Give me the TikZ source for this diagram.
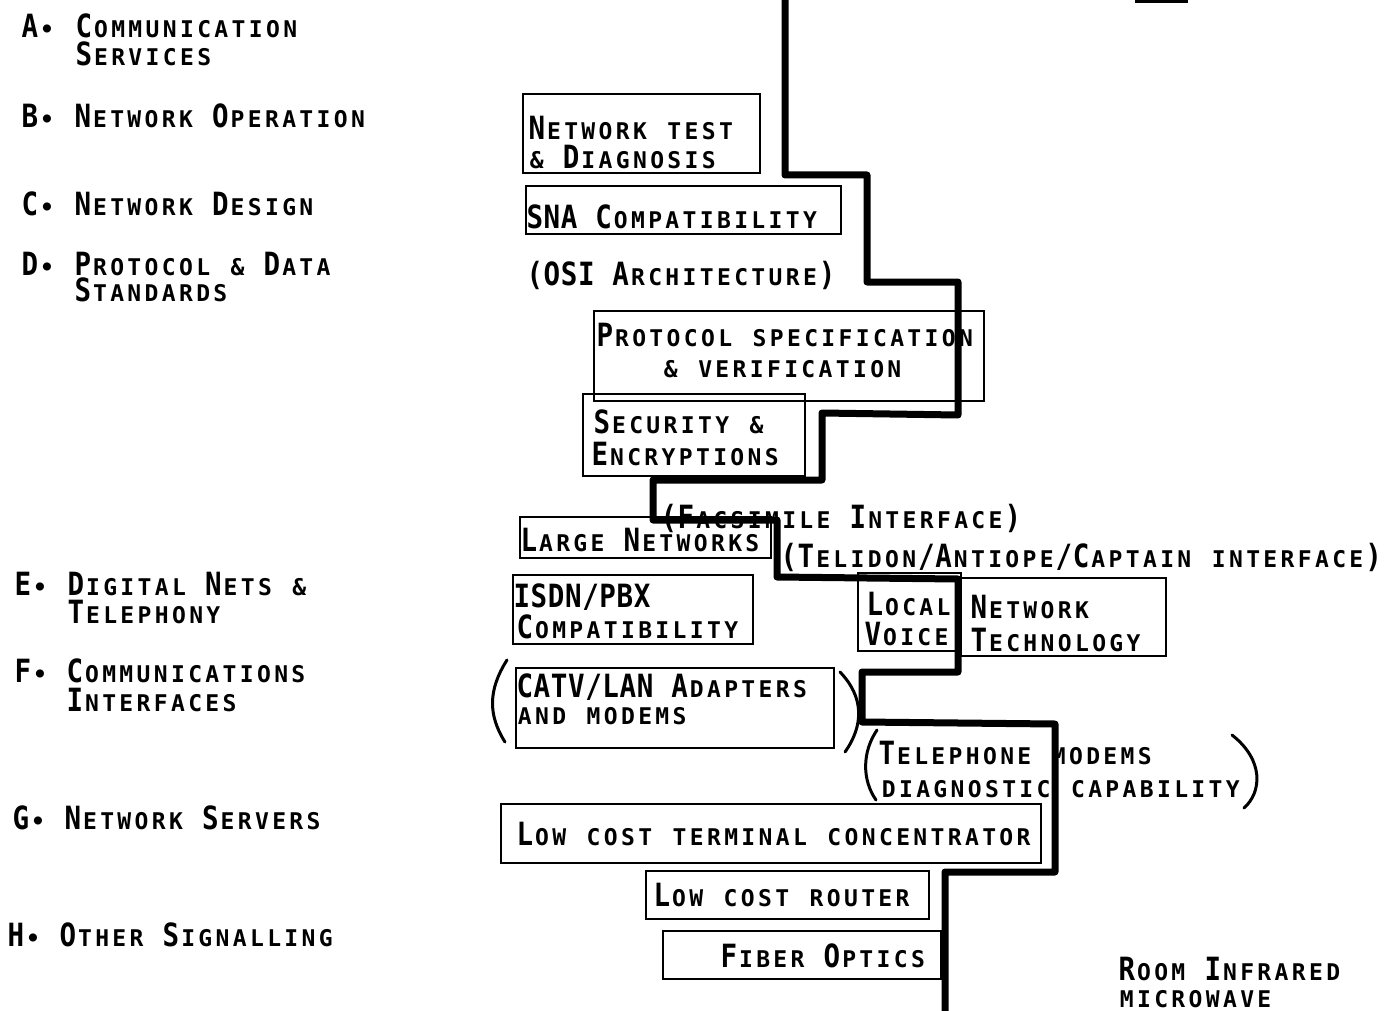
\documentclass[tikz,border=0pt]{standalone}
\usepackage{fontspec}
\setmainfont{DejaVu Sans}
\newfontfamily\twfamily{DejaVu Sans Mono}
\newfontfamily\twbigfamily[FakeStretch=0.86]{DejaVu Sans Mono}
\newcommand\twsmall{\twfamily\bfseries\fontsize{23}{26}\selectfont}
\newcommand\twbig{\twbigfamily\bfseries\fontsize{32}{32}\selectfont}
\usetikzlibrary{positioning}

% typewriter small caps on a fixed pitch
\ExplSyntaxOn
\dim_new:N \l_tw_pitch_dim
\dim_set:Nn \l_tw_pitch_dim {17.2pt}
\NewDocumentCommand \T { m }
  {
    \str_map_inline:nn {#1}
      {
        \makebox [\l_tw_pitch_dim] [c]
          {
            \bool_lazy_any:nTF
              {
                { \bool_lazy_and_p:nn
                    { \int_compare_p:nNn {`##1} > {64} }
                    { \int_compare_p:nNn {`##1} < {91} } }
                { \int_compare_p:nNn {`##1} = {40} }
                { \int_compare_p:nNn {`##1} = {41} }
                { \int_compare_p:nNn {`##1} = {47} }
              }
              { \twbig ##1 }
              { \twsmall \uppercase {##1} }
          }
      }
  }
\ExplSyntaxOff

\begin{document}
\begin{tikzpicture}[x=1pt, y=-1pt,
  box/.style={draw, line width=2.4pt, inner sep=0pt, anchor=north west},
  txt/.style={font=\twsmall, inner sep=0pt, anchor=base west},
  stair/.style={line width=7pt, line join=round, line cap=round},
  paren/.style={line width=3pt, line cap=round}]
  \useasboundingbox (0,0) rectangle (1399,1011);

  % area list
  \node[txt] (keyA) at (21,38) {\T{A•}};
  \node[txt] (areaA) at (75,38) {\T{Communication}};
  \node[txt] (areaAb) at (75,66) {\T{Services}};
  \node[txt] (keyB) at (21,128) {\T{B•}};
  \node[txt] (areaB) at (74,128) {\T{Network Operation}};
  \node[txt] (keyC) at (21,215) {\T{C•}};
  \node[txt] (areaC) at (74,215) {\T{Network Design}};
  \node[txt] (keyD) at (21,275) {\T{D•}};
  \node[txt] (areaD) at (74,275) {\T{Protocol & Data}};
  \node[txt] (areaDb) at (74,301) {\T{Standards}};
  \node[txt] (keyE) at (14,595) {\T{E•}};
  \node[txt] (areaE) at (67,595) {\T{Digital Nets &}};
  \node[txt] (areaEb) at (67,623) {\T{Telephony}};
  \node[txt] (keyF) at (14,682) {\T{F•}};
  \node[txt] (areaF) at (66,682) {\T{Communications}};
  \node[txt] (areaFb) at (66,711) {\T{Interfaces}};
  \node[txt] (keyG) at (12,829) {\T{G•}};
  \node[txt] (areaG) at (64,829) {\T{Network Servers}};
  \node[txt] (keyH) at (7,946) {\T{H•}};
  \node[txt] (areaH) at (59,946) {\T{Other Signalling}};

  % boxes
  \node[box, minimum width=237, minimum height=79] (nettest) at (522,93) {};
  \node[txt] (nettestA) at (528,140) {\T{Network test}};
  \node[txt] (nettestB) at (528,168) {\T{& Diagnosis}};
  \node[box, minimum width=315, minimum height=48] (sna) at (525,185) {};
  \node[txt] (snaA) at (526,228) {\T{SNA Compatibility}};
  \node[txt] (osi) at (526,285) {\T{(OSI Architecture)}};
  \node[box, minimum width=390, minimum height=90] (proto) at (593,310) {};
  \node[txt] (protoA) at (596,346) {\T{Protocol specification}};
  \node[txt] (protoB) at (662,377) {\T{& verification}};
  \node[box, minimum width=222, minimum height=82] (secur) at (582,393) {};
  \node[txt] (securA) at (593,433) {\T{Security &}};
  \node[txt] (securB) at (591,465) {\T{Encryptions}};
  \node[txt] (facs) at (660,528) {\T{(Facsimile Interface)}};
  \node[box, minimum width=251, minimum height=41] (large) at (519,516) {};
  \node[txt] (largeA) at (520,551) {\T{Large Networks}};
  \node[txt] (telidon) at (780,567) {\T{(Telidon/Antiope/Captain interface)}};
  \node[box, minimum width=240, minimum height=69] (isdn) at (512,574) {};
  \node[txt] (isdnA) at (513,607) {\T{ISDN/PBX}};
  \node[txt] (isdnB) at (516,638) {\T{Compatibility}};
  \node[box, minimum width=103, minimum height=78] (voice) at (857,572) {};
  \node[box, minimum width=205, minimum height=78] (lantech) at (960,577) {};
  \node[txt] (voiceA) at (866,615) {\T{Local}};
  \node[txt] (voiceB) at (864,645) {\T{Voice}};
  \node[txt] (lantechA) at (970,618) {\T{Network}};
  \node[txt] (lantechB) at (970,651) {\T{Technology}};
  \node[box, minimum width=318, minimum height=80] (catv) at (515,667) {};
  \node[txt] (catvA) at (516,697) {\T{CATV/LAN Adapters}};
  \node[txt] (catvB) at (516,724) {\T{and modems}};
  \node[txt] (phoneA) at (878,764) {\T{Telephone modems}};
  \node[txt] (phoneB) at (880,797) {\T{diagnostic capability}};
  \node[box, minimum width=540, minimum height=59] (concen) at (500,803) {};
  \node[txt] (concenA) at (516,845) {\T{Low cost terminal concentrator}};
  \node[box, minimum width=283, minimum height=48] (router) at (645,870) {};
  \node[txt] (routerA) at (653,906) {\T{Low cost router}};
  \node[box, minimum width=278, minimum height=48] (fiber) at (662,930) {};
  \node[txt] (fiberA) at (720,967) {\T{Fiber Optics}};
  \node[txt] (roomA) at (1118,980) {\T{Room Infrared}};
  \node[txt] (roomB) at (1118,1007) {\T{microwave}};

  % brackets
  \draw[paren] (507,660) .. controls (488,690) and (488,715) .. (505,742);
  \draw[paren] (840,672) .. controls (864,697) and (864,725) .. (845,752);
  \draw[paren] (877,730) .. controls (862,752) and (862,780) .. (876,800);
  \draw[paren] (1232,735) .. controls (1264,760) and (1262,792) .. (1244,808);

  % the staircase line
  \draw[stair] (785,-5) -- (785,175) -- (867,175) -- (867,282) -- (958,282)
    -- (958,415) -- (822,413) -- (822,480) -- (653,480) -- (653,520)
    -- (777,520) -- (777,577) -- (958,579) -- (958,672) -- (862,672)
    -- (862,722) -- (1055,724) -- (1055,872) -- (945,872) -- (945,1016);
  \draw[line width=5pt] (1135,1) -- (1188,1);
\end{tikzpicture}
\end{document}
